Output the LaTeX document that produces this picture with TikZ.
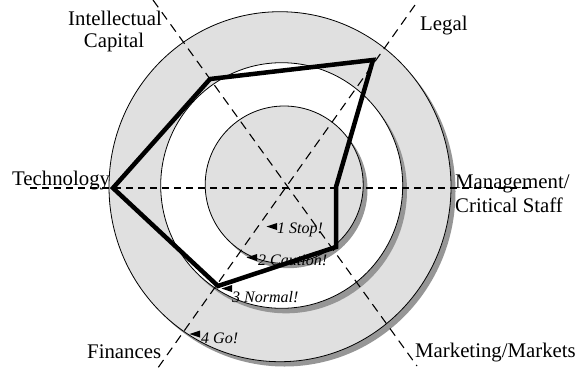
\documentclass[tikz,border=0pt]{standalone}
\usepackage{fontspec}
\setmainfont{Liberation Serif}
\definecolor{ringgray}{RGB}{224,224,224}
\definecolor{shadowgray}{RGB}{150,150,150}
\tikzset{
  ring/.style={draw=black,line width=0.8pt},
  ringshadow/.style={fill=shadowgray},
  haxis/.style={draw=black,line width=1.8pt,dash pattern=on 7pt off 5pt},
  daxis/.style={draw=black,line width=1.1pt,dash pattern=on 9pt off 6pt},
  poly/.style={draw=black,line width=4.5pt,line join=miter},
  biglab/.style={inner sep=0pt,font=\fontsize{20.8}{23}\selectfont},
  smalllab/.style={inner sep=0pt,anchor=base west,font=\fontsize{16}{18}\selectfont\itshape},
  tri/.style={fill=black}
}
\begin{document}
\begin{tikzpicture}[x=1pt,y=-1pt]
\useasboundingbox (0,0) rectangle (584,373);
% rings with shadows
\fill[ringshadow] (284.5,191.5) ellipse [x radius=171, y radius=175];
\filldraw[fill=ringgray,ring] (280,186.7) ellipse [x radius=171, y radius=175];
\fill[ringshadow] (286,190.5) ellipse [x radius=121, y radius=122.8];
\filldraw[fill=white,ring] (281.7,185.5) ellipse [x radius=121, y radius=122.8];
\fill[ringshadow] (288.5,189.5) ellipse [x radius=79, y radius=78.7];
\filldraw[fill=ringgray,ring] (284.2,184.7) ellipse [x radius=79, y radius=78.7];

% zone labels
\node[smalllab] (z1) at (277,233) {1 Stop!};
\node[smalllab] (z2) at (258,265) {2 Caution!};
\node[smalllab] (z3) at (232,302) {3 Normal!};
\node[smalllab] (z4) at (201,343) {4 Go!};
\fill[tri] (266.5,226.5) -- (277,223) -- (277,230) -- cycle;
\fill[tri] (246.5,257.5) -- (257,254) -- (257,261) -- cycle;
\fill[tri] (221.5,288.5) -- (232,285) -- (232,292) -- cycle;
\fill[tri] (189.5,334) -- (200,330.5) -- (200,337.5) -- cycle;

% axis labels
\node[biglab,anchor=base] (ic1) at (115,25) {Intellectual};
\node[biglab,anchor=base] (ic2) at (114,47) {Capital};
\node[biglab,anchor=base west] (lg) at (420,30) {Legal};
\node[biglab,anchor=base west] (te) at (12,185) {Technology};
\node[biglab,anchor=base west] (mg1) at (455,188) {Management/};
\node[biglab,anchor=base west] (mg2) at (455,212) {Critical Staff};
\node[biglab,anchor=base west] (fi) at (87,358) {Finances};
\node[biglab,anchor=base west] (mk) at (415,357) {Marketing/Markets};

% axes
\coordinate (tE) at (30,188);
\coordinate (mE) at (528,188);
\coordinate (icE) at (153,0);
\coordinate (mkE) at (417,366);
\coordinate (lgE) at (415,5);
\coordinate (fiE) at (155,372);
\draw[haxis] (tE) -- (mE);
\draw[daxis] (icE) -- (mkE);
\draw[daxis] (lgE) -- (fiE);

% profile polygon
\coordinate (pT) at (113,188);
\coordinate (pIC) at (210,79);
\coordinate (pL) at (373,60);
\coordinate (pM) at (336,187);
\coordinate (pMk) at (336,247);
\coordinate (pF) at (218,286);
\draw[poly] (pT) -- (pIC) -- (pL) -- (pM) -- (pMk) -- (pF) -- cycle;
\end{tikzpicture}
\end{document}
